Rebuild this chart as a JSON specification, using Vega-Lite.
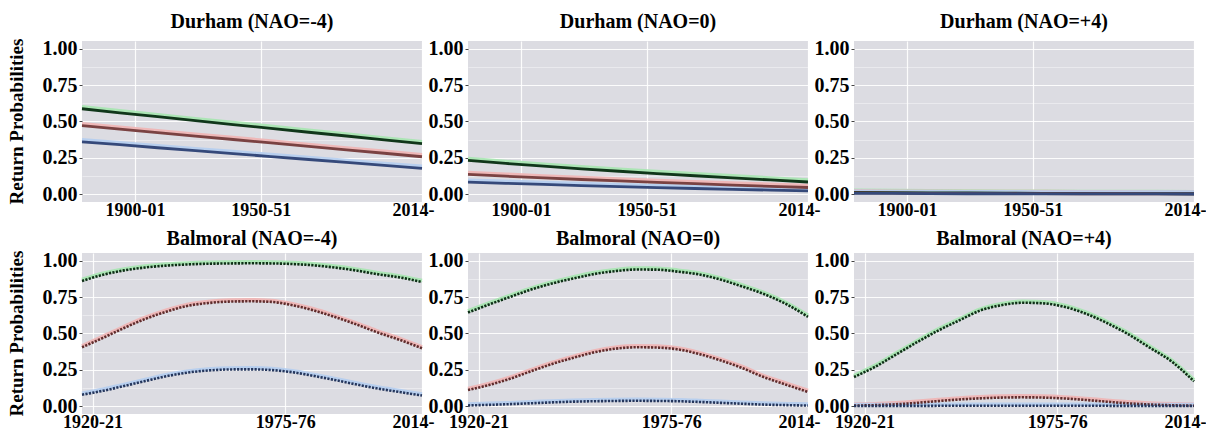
{
  "$schema": "https://vega.github.io/schema/vega-lite/v6.json",
  "background": "white",
  "padding": {"left": 7, "top": 12, "right": 0, "bottom": 0},
  "datasets": {
    "durham": [
      {"site": "Durham", "nao": "-4", "series": "t1", "year": 1879, "p": 0.588},
      {"site": "Durham", "nao": "-4", "series": "t1", "year": 1894, "p": 0.560},
      {"site": "Durham", "nao": "-4", "series": "t1", "year": 1909, "p": 0.533},
      {"site": "Durham", "nao": "-4", "series": "t1", "year": 1924, "p": 0.506},
      {"site": "Durham", "nao": "-4", "series": "t1", "year": 1939, "p": 0.479},
      {"site": "Durham", "nao": "-4", "series": "t1", "year": 1954, "p": 0.453},
      {"site": "Durham", "nao": "-4", "series": "t1", "year": 1969, "p": 0.426},
      {"site": "Durham", "nao": "-4", "series": "t1", "year": 1984, "p": 0.400},
      {"site": "Durham", "nao": "-4", "series": "t1", "year": 1999, "p": 0.373},
      {"site": "Durham", "nao": "-4", "series": "t1", "year": 2014, "p": 0.347},
      {"site": "Durham", "nao": "-4", "series": "t2", "year": 1879, "p": 0.471},
      {"site": "Durham", "nao": "-4", "series": "t2", "year": 1894, "p": 0.447},
      {"site": "Durham", "nao": "-4", "series": "t2", "year": 1909, "p": 0.423},
      {"site": "Durham", "nao": "-4", "series": "t2", "year": 1924, "p": 0.399},
      {"site": "Durham", "nao": "-4", "series": "t2", "year": 1939, "p": 0.376},
      {"site": "Durham", "nao": "-4", "series": "t2", "year": 1954, "p": 0.352},
      {"site": "Durham", "nao": "-4", "series": "t2", "year": 1969, "p": 0.328},
      {"site": "Durham", "nao": "-4", "series": "t2", "year": 1984, "p": 0.304},
      {"site": "Durham", "nao": "-4", "series": "t2", "year": 1999, "p": 0.281},
      {"site": "Durham", "nao": "-4", "series": "t2", "year": 2014, "p": 0.257},
      {"site": "Durham", "nao": "-4", "series": "t3", "year": 1879, "p": 0.360},
      {"site": "Durham", "nao": "-4", "series": "t3", "year": 1894, "p": 0.340},
      {"site": "Durham", "nao": "-4", "series": "t3", "year": 1909, "p": 0.319},
      {"site": "Durham", "nao": "-4", "series": "t3", "year": 1924, "p": 0.299},
      {"site": "Durham", "nao": "-4", "series": "t3", "year": 1939, "p": 0.279},
      {"site": "Durham", "nao": "-4", "series": "t3", "year": 1954, "p": 0.258},
      {"site": "Durham", "nao": "-4", "series": "t3", "year": 1969, "p": 0.238},
      {"site": "Durham", "nao": "-4", "series": "t3", "year": 1984, "p": 0.218},
      {"site": "Durham", "nao": "-4", "series": "t3", "year": 1999, "p": 0.197},
      {"site": "Durham", "nao": "-4", "series": "t3", "year": 2014, "p": 0.177},
      {"site": "Durham", "nao": "0", "series": "t1", "year": 1879, "p": 0.232},
      {"site": "Durham", "nao": "0", "series": "t1", "year": 1894, "p": 0.211},
      {"site": "Durham", "nao": "0", "series": "t1", "year": 1909, "p": 0.192},
      {"site": "Durham", "nao": "0", "series": "t1", "year": 1924, "p": 0.174},
      {"site": "Durham", "nao": "0", "series": "t1", "year": 1939, "p": 0.157},
      {"site": "Durham", "nao": "0", "series": "t1", "year": 1954, "p": 0.141},
      {"site": "Durham", "nao": "0", "series": "t1", "year": 1969, "p": 0.126},
      {"site": "Durham", "nao": "0", "series": "t1", "year": 1984, "p": 0.112},
      {"site": "Durham", "nao": "0", "series": "t1", "year": 1999, "p": 0.097},
      {"site": "Durham", "nao": "0", "series": "t1", "year": 2014, "p": 0.083},
      {"site": "Durham", "nao": "0", "series": "t2", "year": 1879, "p": 0.135},
      {"site": "Durham", "nao": "0", "series": "t2", "year": 1894, "p": 0.123},
      {"site": "Durham", "nao": "0", "series": "t2", "year": 1909, "p": 0.111},
      {"site": "Durham", "nao": "0", "series": "t2", "year": 1924, "p": 0.100},
      {"site": "Durham", "nao": "0", "series": "t2", "year": 1939, "p": 0.090},
      {"site": "Durham", "nao": "0", "series": "t2", "year": 1954, "p": 0.080},
      {"site": "Durham", "nao": "0", "series": "t2", "year": 1969, "p": 0.071},
      {"site": "Durham", "nao": "0", "series": "t2", "year": 1984, "p": 0.062},
      {"site": "Durham", "nao": "0", "series": "t2", "year": 1999, "p": 0.053},
      {"site": "Durham", "nao": "0", "series": "t2", "year": 2014, "p": 0.045},
      {"site": "Durham", "nao": "0", "series": "t3", "year": 1879, "p": 0.082},
      {"site": "Durham", "nao": "0", "series": "t3", "year": 1894, "p": 0.074},
      {"site": "Durham", "nao": "0", "series": "t3", "year": 1909, "p": 0.066},
      {"site": "Durham", "nao": "0", "series": "t3", "year": 1924, "p": 0.058},
      {"site": "Durham", "nao": "0", "series": "t3", "year": 1939, "p": 0.051},
      {"site": "Durham", "nao": "0", "series": "t3", "year": 1954, "p": 0.044},
      {"site": "Durham", "nao": "0", "series": "t3", "year": 1969, "p": 0.038},
      {"site": "Durham", "nao": "0", "series": "t3", "year": 1984, "p": 0.032},
      {"site": "Durham", "nao": "0", "series": "t3", "year": 1999, "p": 0.027},
      {"site": "Durham", "nao": "0", "series": "t3", "year": 2014, "p": 0.022},
      {"site": "Durham", "nao": "+4", "series": "t1", "year": 1879, "p": 0.012},
      {"site": "Durham", "nao": "+4", "series": "t1", "year": 1894, "p": 0.010},
      {"site": "Durham", "nao": "+4", "series": "t1", "year": 1909, "p": 0.008},
      {"site": "Durham", "nao": "+4", "series": "t1", "year": 1924, "p": 0.007},
      {"site": "Durham", "nao": "+4", "series": "t1", "year": 1939, "p": 0.006},
      {"site": "Durham", "nao": "+4", "series": "t1", "year": 1954, "p": 0.005},
      {"site": "Durham", "nao": "+4", "series": "t1", "year": 1969, "p": 0.004},
      {"site": "Durham", "nao": "+4", "series": "t1", "year": 1984, "p": 0.003},
      {"site": "Durham", "nao": "+4", "series": "t1", "year": 1999, "p": 0.003},
      {"site": "Durham", "nao": "+4", "series": "t1", "year": 2014, "p": 0.002},
      {"site": "Durham", "nao": "+4", "series": "t2", "year": 1879, "p": 0.008},
      {"site": "Durham", "nao": "+4", "series": "t2", "year": 1894, "p": 0.006},
      {"site": "Durham", "nao": "+4", "series": "t2", "year": 1909, "p": 0.005},
      {"site": "Durham", "nao": "+4", "series": "t2", "year": 1924, "p": 0.004},
      {"site": "Durham", "nao": "+4", "series": "t2", "year": 1939, "p": 0.003},
      {"site": "Durham", "nao": "+4", "series": "t2", "year": 1954, "p": 0.003},
      {"site": "Durham", "nao": "+4", "series": "t2", "year": 1969, "p": 0.002},
      {"site": "Durham", "nao": "+4", "series": "t2", "year": 1984, "p": 0.002},
      {"site": "Durham", "nao": "+4", "series": "t2", "year": 1999, "p": 0.001},
      {"site": "Durham", "nao": "+4", "series": "t2", "year": 2014, "p": 0.001},
      {"site": "Durham", "nao": "+4", "series": "t3", "year": 1879, "p": 0.005},
      {"site": "Durham", "nao": "+4", "series": "t3", "year": 1894, "p": 0.004},
      {"site": "Durham", "nao": "+4", "series": "t3", "year": 1909, "p": 0.003},
      {"site": "Durham", "nao": "+4", "series": "t3", "year": 1924, "p": 0.002},
      {"site": "Durham", "nao": "+4", "series": "t3", "year": 1939, "p": 0.002},
      {"site": "Durham", "nao": "+4", "series": "t3", "year": 1954, "p": 0.001},
      {"site": "Durham", "nao": "+4", "series": "t3", "year": 1969, "p": 0.001},
      {"site": "Durham", "nao": "+4", "series": "t3", "year": 1984, "p": 0.001},
      {"site": "Durham", "nao": "+4", "series": "t3", "year": 1999, "p": 0.001},
      {"site": "Durham", "nao": "+4", "series": "t3", "year": 2014, "p": 0.000}
    ],
    "balmoral": [
      {"site": "Balmoral", "nao": "-4", "series": "t1", "year": 1917, "p": 0.862},
      {"site": "Balmoral", "nao": "-4", "series": "t1", "year": 1923, "p": 0.905},
      {"site": "Balmoral", "nao": "-4", "series": "t1", "year": 1929, "p": 0.935},
      {"site": "Balmoral", "nao": "-4", "series": "t1", "year": 1935, "p": 0.955},
      {"site": "Balmoral", "nao": "-4", "series": "t1", "year": 1941, "p": 0.968},
      {"site": "Balmoral", "nao": "-4", "series": "t1", "year": 1947, "p": 0.976},
      {"site": "Balmoral", "nao": "-4", "series": "t1", "year": 1953, "p": 0.981},
      {"site": "Balmoral", "nao": "-4", "series": "t1", "year": 1959, "p": 0.983},
      {"site": "Balmoral", "nao": "-4", "series": "t1", "year": 1965, "p": 0.984},
      {"site": "Balmoral", "nao": "-4", "series": "t1", "year": 1971, "p": 0.983},
      {"site": "Balmoral", "nao": "-4", "series": "t1", "year": 1977, "p": 0.979},
      {"site": "Balmoral", "nao": "-4", "series": "t1", "year": 1983, "p": 0.970},
      {"site": "Balmoral", "nao": "-4", "series": "t1", "year": 1989, "p": 0.955},
      {"site": "Balmoral", "nao": "-4", "series": "t1", "year": 1995, "p": 0.935},
      {"site": "Balmoral", "nao": "-4", "series": "t1", "year": 2001, "p": 0.910},
      {"site": "Balmoral", "nao": "-4", "series": "t1", "year": 2008, "p": 0.885},
      {"site": "Balmoral", "nao": "-4", "series": "t1", "year": 2014, "p": 0.855},
      {"site": "Balmoral", "nao": "-4", "series": "t2", "year": 1917, "p": 0.405},
      {"site": "Balmoral", "nao": "-4", "series": "t2", "year": 1923, "p": 0.470},
      {"site": "Balmoral", "nao": "-4", "series": "t2", "year": 1929, "p": 0.538},
      {"site": "Balmoral", "nao": "-4", "series": "t2", "year": 1935, "p": 0.600},
      {"site": "Balmoral", "nao": "-4", "series": "t2", "year": 1941, "p": 0.650},
      {"site": "Balmoral", "nao": "-4", "series": "t2", "year": 1947, "p": 0.690},
      {"site": "Balmoral", "nao": "-4", "series": "t2", "year": 1953, "p": 0.710},
      {"site": "Balmoral", "nao": "-4", "series": "t2", "year": 1959, "p": 0.720},
      {"site": "Balmoral", "nao": "-4", "series": "t2", "year": 1965, "p": 0.722},
      {"site": "Balmoral", "nao": "-4", "series": "t2", "year": 1971, "p": 0.718},
      {"site": "Balmoral", "nao": "-4", "series": "t2", "year": 1977, "p": 0.695},
      {"site": "Balmoral", "nao": "-4", "series": "t2", "year": 1983, "p": 0.660},
      {"site": "Balmoral", "nao": "-4", "series": "t2", "year": 1989, "p": 0.615},
      {"site": "Balmoral", "nao": "-4", "series": "t2", "year": 1995, "p": 0.565},
      {"site": "Balmoral", "nao": "-4", "series": "t2", "year": 2001, "p": 0.510},
      {"site": "Balmoral", "nao": "-4", "series": "t2", "year": 2008, "p": 0.453},
      {"site": "Balmoral", "nao": "-4", "series": "t2", "year": 2014, "p": 0.398},
      {"site": "Balmoral", "nao": "-4", "series": "t3", "year": 1917, "p": 0.078},
      {"site": "Balmoral", "nao": "-4", "series": "t3", "year": 1923, "p": 0.105},
      {"site": "Balmoral", "nao": "-4", "series": "t3", "year": 1929, "p": 0.138},
      {"site": "Balmoral", "nao": "-4", "series": "t3", "year": 1935, "p": 0.172},
      {"site": "Balmoral", "nao": "-4", "series": "t3", "year": 1941, "p": 0.205},
      {"site": "Balmoral", "nao": "-4", "series": "t3", "year": 1947, "p": 0.230},
      {"site": "Balmoral", "nao": "-4", "series": "t3", "year": 1953, "p": 0.245},
      {"site": "Balmoral", "nao": "-4", "series": "t3", "year": 1959, "p": 0.252},
      {"site": "Balmoral", "nao": "-4", "series": "t3", "year": 1965, "p": 0.253},
      {"site": "Balmoral", "nao": "-4", "series": "t3", "year": 1971, "p": 0.248},
      {"site": "Balmoral", "nao": "-4", "series": "t3", "year": 1977, "p": 0.233},
      {"site": "Balmoral", "nao": "-4", "series": "t3", "year": 1983, "p": 0.208},
      {"site": "Balmoral", "nao": "-4", "series": "t3", "year": 1989, "p": 0.180},
      {"site": "Balmoral", "nao": "-4", "series": "t3", "year": 1995, "p": 0.150},
      {"site": "Balmoral", "nao": "-4", "series": "t3", "year": 2001, "p": 0.122},
      {"site": "Balmoral", "nao": "-4", "series": "t3", "year": 2008, "p": 0.095},
      {"site": "Balmoral", "nao": "-4", "series": "t3", "year": 2014, "p": 0.072},
      {"site": "Balmoral", "nao": "0", "series": "t1", "year": 1917, "p": 0.645},
      {"site": "Balmoral", "nao": "0", "series": "t1", "year": 1923, "p": 0.700},
      {"site": "Balmoral", "nao": "0", "series": "t1", "year": 1929, "p": 0.752},
      {"site": "Balmoral", "nao": "0", "series": "t1", "year": 1935, "p": 0.803},
      {"site": "Balmoral", "nao": "0", "series": "t1", "year": 1941, "p": 0.845},
      {"site": "Balmoral", "nao": "0", "series": "t1", "year": 1947, "p": 0.879},
      {"site": "Balmoral", "nao": "0", "series": "t1", "year": 1953, "p": 0.910},
      {"site": "Balmoral", "nao": "0", "series": "t1", "year": 1959, "p": 0.930},
      {"site": "Balmoral", "nao": "0", "series": "t1", "year": 1965, "p": 0.941},
      {"site": "Balmoral", "nao": "0", "series": "t1", "year": 1971, "p": 0.940},
      {"site": "Balmoral", "nao": "0", "series": "t1", "year": 1977, "p": 0.926},
      {"site": "Balmoral", "nao": "0", "series": "t1", "year": 1983, "p": 0.907},
      {"site": "Balmoral", "nao": "0", "series": "t1", "year": 1989, "p": 0.872},
      {"site": "Balmoral", "nao": "0", "series": "t1", "year": 1995, "p": 0.826},
      {"site": "Balmoral", "nao": "0", "series": "t1", "year": 2001, "p": 0.776},
      {"site": "Balmoral", "nao": "0", "series": "t1", "year": 2008, "p": 0.700},
      {"site": "Balmoral", "nao": "0", "series": "t1", "year": 2014, "p": 0.615},
      {"site": "Balmoral", "nao": "0", "series": "t2", "year": 1917, "p": 0.110},
      {"site": "Balmoral", "nao": "0", "series": "t2", "year": 1923, "p": 0.145},
      {"site": "Balmoral", "nao": "0", "series": "t2", "year": 1929, "p": 0.188},
      {"site": "Balmoral", "nao": "0", "series": "t2", "year": 1935, "p": 0.240},
      {"site": "Balmoral", "nao": "0", "series": "t2", "year": 1941, "p": 0.290},
      {"site": "Balmoral", "nao": "0", "series": "t2", "year": 1947, "p": 0.332},
      {"site": "Balmoral", "nao": "0", "series": "t2", "year": 1953, "p": 0.370},
      {"site": "Balmoral", "nao": "0", "series": "t2", "year": 1959, "p": 0.395},
      {"site": "Balmoral", "nao": "0", "series": "t2", "year": 1965, "p": 0.405},
      {"site": "Balmoral", "nao": "0", "series": "t2", "year": 1971, "p": 0.403},
      {"site": "Balmoral", "nao": "0", "series": "t2", "year": 1977, "p": 0.390},
      {"site": "Balmoral", "nao": "0", "series": "t2", "year": 1983, "p": 0.358},
      {"site": "Balmoral", "nao": "0", "series": "t2", "year": 1989, "p": 0.315},
      {"site": "Balmoral", "nao": "0", "series": "t2", "year": 1995, "p": 0.264},
      {"site": "Balmoral", "nao": "0", "series": "t2", "year": 2001, "p": 0.203},
      {"site": "Balmoral", "nao": "0", "series": "t2", "year": 2008, "p": 0.145},
      {"site": "Balmoral", "nao": "0", "series": "t2", "year": 2014, "p": 0.097},
      {"site": "Balmoral", "nao": "0", "series": "t3", "year": 1917, "p": 0.004},
      {"site": "Balmoral", "nao": "0", "series": "t3", "year": 1923, "p": 0.008},
      {"site": "Balmoral", "nao": "0", "series": "t3", "year": 1929, "p": 0.013},
      {"site": "Balmoral", "nao": "0", "series": "t3", "year": 1935, "p": 0.019},
      {"site": "Balmoral", "nao": "0", "series": "t3", "year": 1941, "p": 0.025},
      {"site": "Balmoral", "nao": "0", "series": "t3", "year": 1947, "p": 0.030},
      {"site": "Balmoral", "nao": "0", "series": "t3", "year": 1953, "p": 0.033},
      {"site": "Balmoral", "nao": "0", "series": "t3", "year": 1959, "p": 0.035},
      {"site": "Balmoral", "nao": "0", "series": "t3", "year": 1965, "p": 0.036},
      {"site": "Balmoral", "nao": "0", "series": "t3", "year": 1971, "p": 0.035},
      {"site": "Balmoral", "nao": "0", "series": "t3", "year": 1977, "p": 0.033},
      {"site": "Balmoral", "nao": "0", "series": "t3", "year": 1983, "p": 0.028},
      {"site": "Balmoral", "nao": "0", "series": "t3", "year": 1989, "p": 0.022},
      {"site": "Balmoral", "nao": "0", "series": "t3", "year": 1995, "p": 0.016},
      {"site": "Balmoral", "nao": "0", "series": "t3", "year": 2001, "p": 0.010},
      {"site": "Balmoral", "nao": "0", "series": "t3", "year": 2008, "p": 0.006},
      {"site": "Balmoral", "nao": "0", "series": "t3", "year": 2014, "p": 0.003},
      {"site": "Balmoral", "nao": "+4", "series": "t1", "year": 1917, "p": 0.200},
      {"site": "Balmoral", "nao": "+4", "series": "t1", "year": 1923, "p": 0.270},
      {"site": "Balmoral", "nao": "+4", "series": "t1", "year": 1929, "p": 0.355},
      {"site": "Balmoral", "nao": "+4", "series": "t1", "year": 1935, "p": 0.440},
      {"site": "Balmoral", "nao": "+4", "series": "t1", "year": 1941, "p": 0.520},
      {"site": "Balmoral", "nao": "+4", "series": "t1", "year": 1947, "p": 0.590},
      {"site": "Balmoral", "nao": "+4", "series": "t1", "year": 1953, "p": 0.658},
      {"site": "Balmoral", "nao": "+4", "series": "t1", "year": 1959, "p": 0.695},
      {"site": "Balmoral", "nao": "+4", "series": "t1", "year": 1965, "p": 0.712},
      {"site": "Balmoral", "nao": "+4", "series": "t1", "year": 1971, "p": 0.708},
      {"site": "Balmoral", "nao": "+4", "series": "t1", "year": 1977, "p": 0.684},
      {"site": "Balmoral", "nao": "+4", "series": "t1", "year": 1983, "p": 0.638},
      {"site": "Balmoral", "nao": "+4", "series": "t1", "year": 1989, "p": 0.574},
      {"site": "Balmoral", "nao": "+4", "series": "t1", "year": 1995, "p": 0.498},
      {"site": "Balmoral", "nao": "+4", "series": "t1", "year": 2001, "p": 0.408},
      {"site": "Balmoral", "nao": "+4", "series": "t1", "year": 2008, "p": 0.300},
      {"site": "Balmoral", "nao": "+4", "series": "t1", "year": 2014, "p": 0.170},
      {"site": "Balmoral", "nao": "+4", "series": "t2", "year": 1917, "p": 0.003},
      {"site": "Balmoral", "nao": "+4", "series": "t2", "year": 1923, "p": 0.006},
      {"site": "Balmoral", "nao": "+4", "series": "t2", "year": 1929, "p": 0.012},
      {"site": "Balmoral", "nao": "+4", "series": "t2", "year": 1935, "p": 0.022},
      {"site": "Balmoral", "nao": "+4", "series": "t2", "year": 1941, "p": 0.034},
      {"site": "Balmoral", "nao": "+4", "series": "t2", "year": 1947, "p": 0.045},
      {"site": "Balmoral", "nao": "+4", "series": "t2", "year": 1953, "p": 0.053},
      {"site": "Balmoral", "nao": "+4", "series": "t2", "year": 1959, "p": 0.058},
      {"site": "Balmoral", "nao": "+4", "series": "t2", "year": 1965, "p": 0.060},
      {"site": "Balmoral", "nao": "+4", "series": "t2", "year": 1971, "p": 0.058},
      {"site": "Balmoral", "nao": "+4", "series": "t2", "year": 1977, "p": 0.052},
      {"site": "Balmoral", "nao": "+4", "series": "t2", "year": 1983, "p": 0.042},
      {"site": "Balmoral", "nao": "+4", "series": "t2", "year": 1989, "p": 0.030},
      {"site": "Balmoral", "nao": "+4", "series": "t2", "year": 1995, "p": 0.019},
      {"site": "Balmoral", "nao": "+4", "series": "t2", "year": 2001, "p": 0.011},
      {"site": "Balmoral", "nao": "+4", "series": "t2", "year": 2008, "p": 0.005},
      {"site": "Balmoral", "nao": "+4", "series": "t2", "year": 2014, "p": 0.002},
      {"site": "Balmoral", "nao": "+4", "series": "t3", "year": 1917, "p": 0.000},
      {"site": "Balmoral", "nao": "+4", "series": "t3", "year": 1935, "p": 0.001},
      {"site": "Balmoral", "nao": "+4", "series": "t3", "year": 1953, "p": 0.002},
      {"site": "Balmoral", "nao": "+4", "series": "t3", "year": 1965, "p": 0.002},
      {"site": "Balmoral", "nao": "+4", "series": "t3", "year": 1977, "p": 0.002},
      {"site": "Balmoral", "nao": "+4", "series": "t3", "year": 1995, "p": 0.001},
      {"site": "Balmoral", "nao": "+4", "series": "t3", "year": 2014, "p": 0.000}
    ]
  },
  "config": {
    "font": "Liberation Serif, Times New Roman, serif",
    "view": {"fill": "#dcdce2", "stroke": null},
    "axis": {
      "title": null,
      "domain": false,
      "labelFont": "Liberation Serif, Times New Roman, serif",
      "labelFontWeight": "bold",
      "labelColor": "#000000",
      "tickColor": "#444444",
      "tickSize": 3,
      "gridColor": "#ffffff"
    },
    "header": {
      "labelFont": "Liberation Serif, Times New Roman, serif",
      "labelFontWeight": "bold",
      "labelColor": "#000000",
      "title": null
    },
    "concat": {"spacing": 10}
  },
  "vconcat": [
    {
      "data": {"name": "durham"},
      "facet": {
        "row": {
          "field": "site",
          "header": {"labelExpr": "'Return Probabilities'", "labelFont": "Liberation Serif, Times New Roman, serif", "labelFontWeight": "bold", "labelOrient": "left", "labelAngle": -90, "labelFontSize": 19, "labelPadding": 6}
        },
        "column": {
          "field": "nao",
          "sort": ["-4", "0", "+4"],
          "header": {"labelExpr": "'Durham (NAO=' + datum.value + ')'", "labelFont": "Liberation Serif, Times New Roman, serif", "labelFontWeight": "bold", "labelFontSize": 20, "labelPadding": 6}
        }
      },
      "spacing": {"column": -1},
      "resolve": {"axis": {"y": "independent"}},
      "spec": {
        "width": 340,
        "height": 161,
        "encoding": {
          "x": {
            "field": "year",
            "type": "quantitative",
            "scale": {"domain": [1879, 2014], "nice": false, "zero": false},
            "axis": {
              "values": [1900, 1950, 2014],
              "labelExpr": "datum.value == 1900 ? '1900-01' : datum.value == 1950 ? '1950-51' : '2014-'",
              "labelFontSize": 18,
              "labelFlush": 2,
              "labelFlushOffset": 12,
              "labelPadding": -7,
              "gridWidth": 1.2,
              "gridOpacity": 0.9
            }
          },
          "y": {
            "field": "p",
            "type": "quantitative",
            "scale": {"domain": [-0.055, 1.055], "nice": false, "zero": false},
            "axis": {
              "values": [0, 0.125, 0.25, 0.375, 0.5, 0.625, 0.75, 0.875, 1],
              "labelExpr": "datum.value % 0.25 == 0 ? format(datum.value, '.2f') : ''",
              "labelFontSize": 20,
              "labelPadding": 2,
              "tickOpacity": {"condition": {"test": "datum.value % 0.25 == 0", "value": 1}, "value": 0},
              "gridWidth": {"condition": {"test": "datum.value % 0.25 == 0", "value": 1.2}, "value": 0.7},
              "gridOpacity": {"condition": {"test": "datum.value % 0.25 == 0", "value": 0.9}, "value": 0.6}
            }
          }
        },
        "layer": [
          {
            "mark": {"type": "line", "strokeWidth": 3.5, "yOffset": -2, "opacity": 0.9},
            "encoding": {
              "color": {"field": "series", "type": "nominal", "legend": null,
                "scale": {"domain": ["t1", "t2", "t3"], "range": ["#a6e6b0", "#f0b4b4", "#b4cdf0"]}}
            }
          },
          {
            "mark": {"type": "line", "strokeWidth": 2.8},
            "encoding": {
              "color": {"field": "series", "type": "nominal", "legend": null,
                "scale": {"domain": ["t1", "t2", "t3"], "range": ["#10361a", "#7a4242", "#35497a"]}}
            }
          }
        ],
        "resolve": {"scale": {"color": "independent"}}
      }
    },
    {
      "data": {"name": "balmoral"},
      "facet": {
        "row": {
          "field": "site",
          "header": {"labelExpr": "'Return Probabilities'", "labelFont": "Liberation Serif, Times New Roman, serif", "labelFontWeight": "bold", "labelOrient": "left", "labelAngle": -90, "labelFontSize": 19, "labelPadding": 6}
        },
        "column": {
          "field": "nao",
          "sort": ["-4", "0", "+4"],
          "header": {"labelExpr": "'Balmoral (NAO=' + datum.value + ')'", "labelFont": "Liberation Serif, Times New Roman, serif", "labelFontWeight": "bold", "labelFontSize": 20, "labelPadding": 1}
        }
      },
      "spacing": {"column": -1},
      "resolve": {"axis": {"y": "independent"}},
      "spec": {
        "width": 340,
        "height": 161,
        "encoding": {
          "x": {
            "field": "year",
            "type": "quantitative",
            "scale": {"domain": [1917, 2014], "nice": false, "zero": false},
            "axis": {
              "values": [1920, 1975, 2014],
              "labelExpr": "datum.value == 1920 ? '1920-21' : datum.value == 1975 ? '1975-76' : '2014-'",
              "labelFontSize": 18,
              "labelFlush": 2,
              "labelFlushOffset": 12,
              "labelPadding": -7,
              "gridWidth": 1.2,
              "gridOpacity": 0.9
            }
          },
          "y": {
            "field": "p",
            "type": "quantitative",
            "scale": {"domain": [-0.055, 1.055], "nice": false, "zero": false},
            "axis": {
              "values": [0, 0.125, 0.25, 0.375, 0.5, 0.625, 0.75, 0.875, 1],
              "labelExpr": "datum.value % 0.25 == 0 ? format(datum.value, '.2f') : ''",
              "labelFontSize": 20,
              "labelPadding": 2,
              "tickOpacity": {"condition": {"test": "datum.value % 0.25 == 0", "value": 1}, "value": 0},
              "gridWidth": {"condition": {"test": "datum.value % 0.25 == 0", "value": 1.2}, "value": 0.7},
              "gridOpacity": {"condition": {"test": "datum.value % 0.25 == 0", "value": 0.9}, "value": 0.6}
            }
          }
        },
        "layer": [
          {
            "mark": {"type": "line", "strokeWidth": 3.5, "yOffset": -1.5, "opacity": 0.9, "interpolate": "monotone"},
            "encoding": {
              "color": {"field": "series", "type": "nominal", "legend": null,
                "scale": {"domain": ["t1", "t2", "t3"], "range": ["#a6e6b0", "#f0b4b4", "#b4cdf0"]}}
            }
          },
          {
            "mark": {"type": "line", "strokeWidth": 2.6, "strokeDash": [2.2, 1.3], "interpolate": "monotone"},
            "encoding": {
              "color": {"field": "series", "type": "nominal", "legend": null,
                "scale": {"domain": ["t1", "t2", "t3"], "range": ["#0e2e16", "#5e2c2c", "#25365c"]}}
            }
          }
        ],
        "resolve": {"scale": {"color": "independent"}}
      }
    }
  ]
}
